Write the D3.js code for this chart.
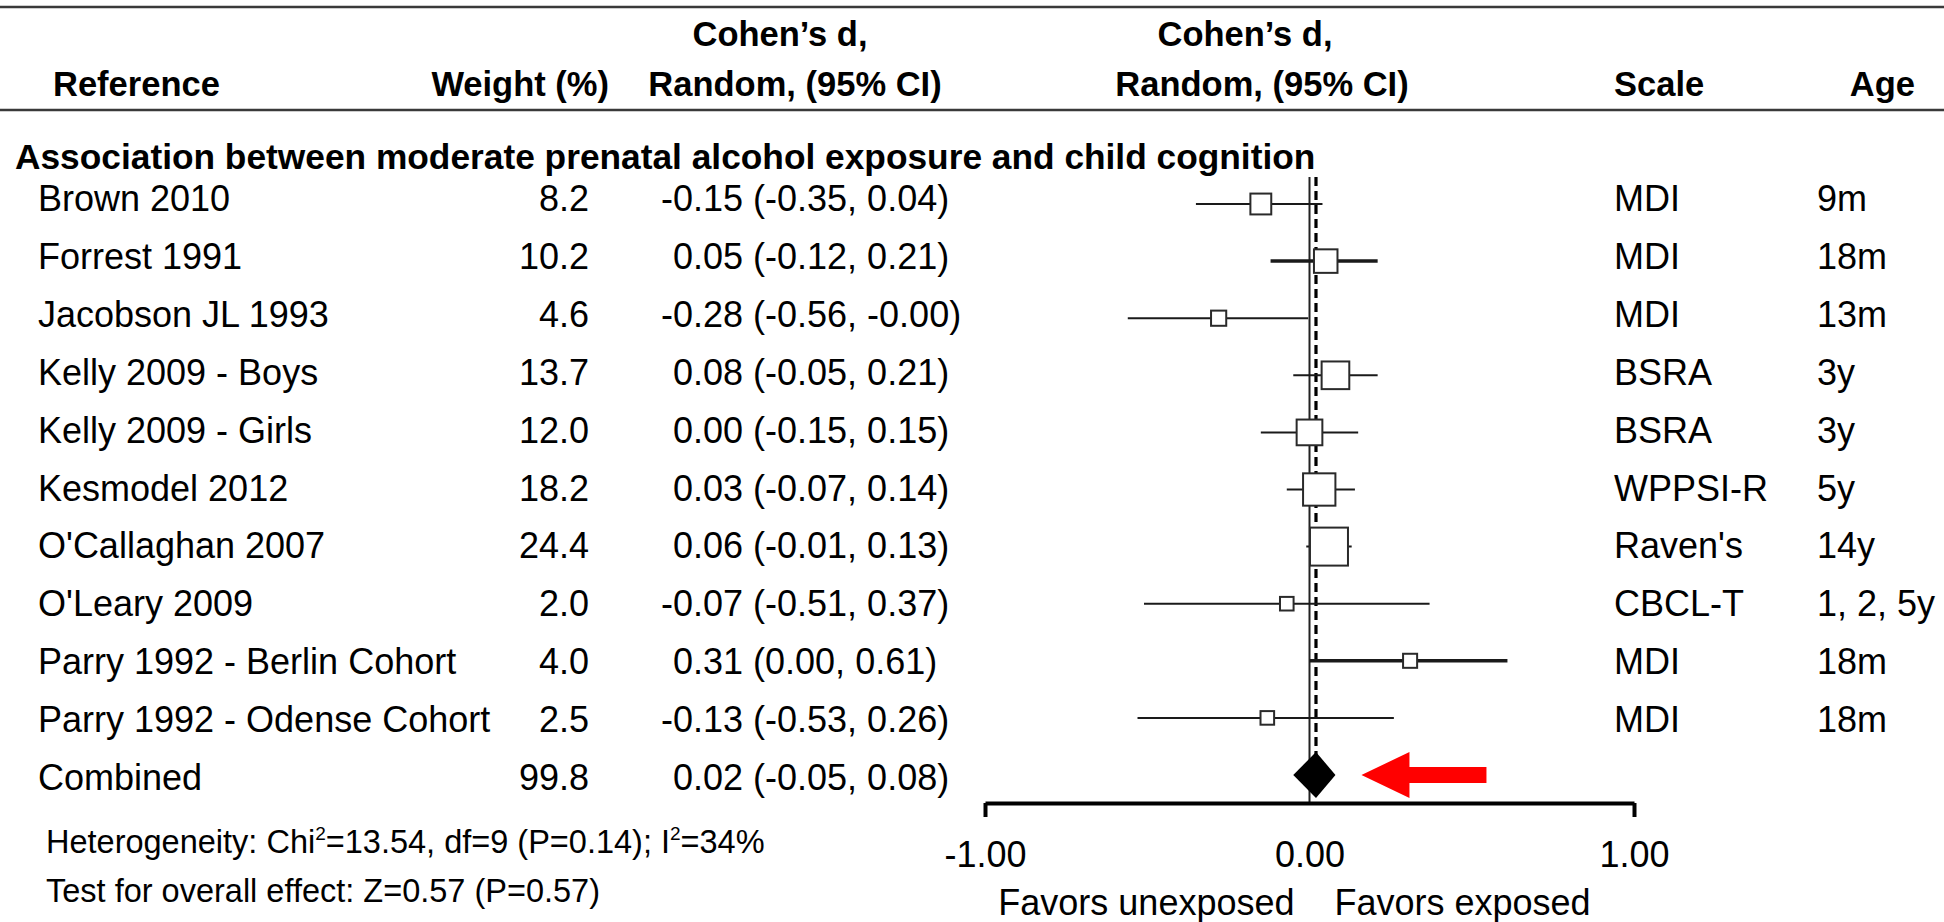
<!DOCTYPE html>
<html><head><meta charset="utf-8">
<script src="https://cdn.jsdelivr.net/npm/d3@7"></script>
<style>
html,body{margin:0;padding:0;background:#fff;}
svg text{font-family:"Liberation Sans",Arial,Helvetica,sans-serif;fill:#000;}
</style></head><body>
<svg id="chart" width="1944" height="922"></svg>
<script>
// ---------------- data ----------------
const studies = ["Brown 2010","Forrest 1991","Jacobson JL 1993","Kelly 2009 - Boys","Kelly 2009 - Girls",
  "Kesmodel 2012","O'Callaghan 2007","O'Leary 2009","Parry 1992 - Berlin Cohort","Parry 1992 - Odense Cohort"];
const weights   = [8.2, 10.2, 4.6, 13.7, 12.0, 18.2, 24.4, 2.0, 4.0, 2.5];
const estimates = [-0.15, 0.05, -0.28, 0.08, 0.00, 0.03, 0.06, -0.07, 0.31, -0.13];
const lowerCI   = [-0.35, -0.12, -0.56, -0.05, -0.15, -0.07, -0.01, -0.51, 0.00, -0.53];
const upperCI   = [0.04, 0.21, -0.004, 0.21, 0.15, 0.14, 0.13, 0.37, 0.61, 0.26];
const scaleNames = ["MDI","MDI","MDI","BSRA","BSRA","WPPSI-R","Raven's","CBCL-T","MDI","MDI"];
const ages      = ["9m","18m","13m","3y","3y","5y","14y","1, 2, 5y","18m","18m"];

const combinedLabel = "Combined";
const combinedWeight = 99.8;
const combinedEstimate = 0.02;
const combinedLower = -0.05;
const combinedUpper = 0.08;

const heterogeneity = {chi2: "13.54", df: 9, p: "0.14", i2: 34};
const overallEffect = {z: "0.57", p: "0.57"};

const axisTicks = [-1, 0, 1];
const favorsLeft = "Favors unexposed";
const favorsRight = "Favors exposed";
const groupTitle = "Association between moderate prenatal alcohol exposure and child cognition";
const headerRef = "Reference", headerWeight = "Weight (%)";
const headerEffect = ["Cohen\u2019s d,", "Random, (95% CI)"];
const headerScale = "Scale", headerAge = "Age";

// ---------------- drawing ----------------
const svg = d3.select("#chart");
const fmt2 = v => (v < 0 || Object.is(v, -0) ? "-" : "") + Math.abs(v).toFixed(2);
const fmt1 = d3.format(".1f");
const ciText = (e, l, h) => `${fmt2(e)} (${fmt2(l)}, ${fmt2(h)})`;

const x = d3.scaleLinear().domain([-1, 1]).range([985, 1634]);
const nRows = studies.length;
const markY = d3.scaleLinear().domain([0, nRows]).range([204, 775]);
const textY = d3.scaleLinear().domain([0, nRows]).range([211, 790]);
const boxSize = d3.scalePow().exponent(0.55).domain([0, d3.max(weights)]).range([0, 38]);
const heavyRows = new Set(["Forrest 1991", "Parry 1992 - Berlin Cohort"]);

const rows = studies.map((s, i) => ({s, i, w: weights[i], e: estimates[i], l: lowerCI[i], h: upperCI[i], sc: scaleNames[i], age: ages[i]}));

// rules
svg.append("line").attr("x1", 0).attr("x2", 1944).attr("y1", 7).attr("y2", 7)
  .attr("stroke", "#3a3a3a").attr("stroke-width", 2.5);
svg.append("line").attr("x1", 0).attr("x2", 1944).attr("y1", 110).attr("y2", 110)
  .attr("stroke", "#3a3a3a").attr("stroke-width", 2.5);

// headers
const hdr = svg.append("g").attr("font-weight", "bold").attr("font-size", 34.5);
hdr.append("text").attr("x", 53).attr("y", 96).text(headerRef);
hdr.append("text").attr("x", 609).attr("y", 96).attr("text-anchor", "end").text(headerWeight);
hdr.append("text").attr("x", 780).attr("y", 46).attr("text-anchor", "middle").text(headerEffect[0]);
hdr.append("text").attr("x", 795).attr("y", 96).attr("text-anchor", "middle").text(headerEffect[1]);
hdr.append("text").attr("x", 1245).attr("y", 46).attr("text-anchor", "middle").text(headerEffect[0]);
hdr.append("text").attr("x", 1262).attr("y", 96).attr("text-anchor", "middle").text(headerEffect[1]);
hdr.append("text").attr("x", 1614).attr("y", 96).text(headerScale);
hdr.append("text").attr("x", 1915).attr("y", 96).attr("text-anchor", "end").text(headerAge);

svg.append("text").attr("x", 15).attr("y", 169).attr("font-weight", "bold").attr("font-size", 35.3).text(groupTitle);

// text columns
const tg = svg.append("g").attr("font-size", 36);
const minusW = (() => { const t = tg.append("text").text("-"); const w = t.node().getComputedTextLength(); t.remove(); return w; })();
const digitX = 673;

const allRows = rows.concat([{s: combinedLabel, i: nRows, w: combinedWeight, e: combinedEstimate, l: combinedLower, h: combinedUpper, sc: "", age: ""}]);
const rowG = tg.selectAll("g.row").data(allRows).join("g").attr("class", "row");
rowG.append("text").attr("x", 38).attr("y", d => textY(d.i)).text(d => d.s);
rowG.append("text").attr("x", 589).attr("y", d => textY(d.i)).attr("text-anchor", "end").text(d => fmt1(d.w));
rowG.append("text").attr("x", d => digitX - (d.e < 0 ? minusW : 0)).attr("y", d => textY(d.i)).text(d => ciText(d.e, d.l, d.h));
rowG.append("text").attr("x", 1614).attr("y", d => textY(d.i)).text(d => d.sc);
rowG.append("text").attr("x", 1817).attr("y", d => textY(d.i)).text(d => d.age);

// reference lines
svg.append("line").attr("x1", x(0)).attr("x2", x(0)).attr("y1", 177).attr("y2", 802)
  .attr("stroke", "#222").attr("stroke-width", 2);
svg.append("line").attr("x1", x(combinedEstimate)).attr("x2", x(combinedEstimate)).attr("y1", 177).attr("y2", markY(nRows))
  .attr("stroke", "#000").attr("stroke-width", 3.2).attr("stroke-dasharray", "9,5");

// CI lines and boxes
const mg = svg.append("g");
mg.selectAll("line.ci").data(rows).join("line").attr("class", "ci")
  .attr("x1", d => x(d.l)).attr("x2", d => x(d.h))
  .attr("y1", d => markY(d.i)).attr("y2", d => markY(d.i))
  .attr("stroke", "#1a1a1a").attr("stroke-width", d => heavyRows.has(d.s) ? 3.5 : 2);
mg.selectAll("rect.box").data(rows).join("rect").attr("class", "box")
  .each(function(d){ d.sz = Math.max(13.6, boxSize(d.w)); })
  .attr("x", d => x(d.e) - d.sz / 2).attr("y", d => markY(d.i) - d.sz / 2)
  .attr("width", d => d.sz).attr("height", d => d.sz)
  .attr("fill", "#fff").attr("stroke", "#2a2a2a").attr("stroke-width", 2);

// combined diamond
const cy = markY(nRows), dh = 23;
svg.append("path")
  .attr("d", `M${x(combinedLower)},${cy}L${x(combinedEstimate)},${cy - dh}L${x(combinedUpper)},${cy}L${x(combinedEstimate)},${cy + dh}Z`)
  .attr("fill", "#000");

// red arrow
const tip = x(combinedUpper) + 26;
svg.append("path")
  .attr("d", d3.line()([[tip, cy], [tip + 48, cy - 23], [tip + 48, cy - 8], [tip + 125, cy - 8],
                        [tip + 125, cy + 8], [tip + 48, cy + 8], [tip + 48, cy + 23]]) + "Z")
  .attr("fill", "#ff0000");

// axis
const axisG = svg.append("g").attr("transform", "translate(0,803)")
  .call(d3.axisBottom(x).tickValues(axisTicks).tickSize(14).tickSizeOuter(0).tickFormat(fmt2));
axisG.select(".domain").attr("stroke", "#000").attr("stroke-width", 4);
axisG.selectAll(".tick line").attr("stroke", "#000").attr("stroke-width", 4);
axisG.selectAll(".tick").filter(d => d === 0).select("line").remove();
axisG.selectAll(".tick text").attr("y", 64).attr("dy", 0).attr("font-size", 36)
  .attr("font-family", "'Liberation Sans',Arial,sans-serif").attr("fill", "#000");

svg.append("text").attr("x", x(0) - 15).attr("y", 915).attr("font-size", 36).attr("text-anchor", "end").text(favorsLeft);
svg.append("text").attr("x", x(0) + 25).attr("y", 915).attr("font-size", 36).text(favorsRight);

// footnotes
const fn = svg.append("g").attr("font-size", 32.5);
const t1 = fn.append("text").attr("x", 46).attr("y", 853);
t1.append("tspan").text("Heterogeneity: Chi");
t1.append("tspan").attr("dy", -13).attr("font-size", 19).text("2");
t1.append("tspan").attr("dy", 13).text(`=${heterogeneity.chi2}, df=${heterogeneity.df} (P=${heterogeneity.p}); I`);
t1.append("tspan").attr("dy", -13).attr("font-size", 19).text("2");
t1.append("tspan").attr("dy", 13).text(`=${heterogeneity.i2}%`);
fn.append("text").attr("x", 46).attr("y", 902).text(`Test for overall effect: Z=${overallEffect.z} (P=${overallEffect.p})`);
</script>
</body></html>
